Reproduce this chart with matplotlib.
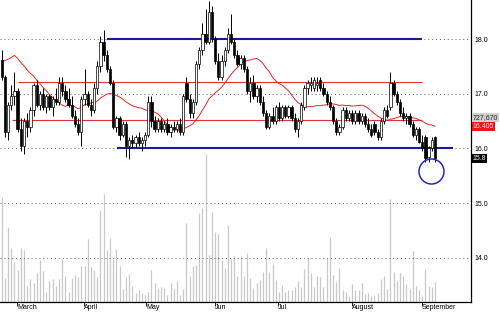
import numpy as np
import pandas as pd
import matplotlib
matplotlib.use('Agg')
import matplotlib.pyplot as plt

plt.rcParams['font.family'] = ['Liberation Sans', 'DejaVu Sans']

# ---------------- data ----------------
opens = [17.62, 17.30, 16.30, 16.80, 16.95, 17.05, 16.35, 16.05, 16.50, 16.40,
         16.70, 17.15, 16.80, 17.00, 16.75, 16.95, 16.75, 16.90, 16.85, 17.20,
         17.05, 16.90, 16.80, 16.60, 16.45, 16.30, 16.90, 17.00, 16.80, 16.70,
         17.10, 17.50, 17.95, 17.70, 17.45, 17.20, 16.40, 16.55, 16.25, 16.45,
         16.05, 16.15, 16.10, 16.20, 16.10, 16.15, 16.25, 16.85, 16.50, 16.35,
         16.50, 16.35, 16.45, 16.30, 16.40, 16.35, 16.45, 16.30, 17.20, 16.90,
         16.65, 16.85, 17.55, 17.80, 18.10, 17.95, 18.50, 18.00, 17.60, 17.30,
         17.60, 17.80, 18.10, 17.95, 17.70, 17.55, 17.65, 17.45, 17.05, 17.20,
         16.95, 17.10, 16.85, 16.65, 16.40, 16.60, 16.50, 16.75, 16.55, 16.75,
         16.60, 16.75, 16.55, 16.35, 16.50, 16.75, 17.10, 17.15, 17.10, 17.15,
         17.25, 17.10, 17.00, 16.85, 16.75, 16.50, 16.30, 16.40, 16.70, 16.55,
         16.65, 16.50, 16.65, 16.50, 16.60, 16.45, 16.35, 16.45, 16.30, 16.20,
         16.50, 16.70, 16.75, 17.20, 17.00, 16.85, 16.65, 16.55, 16.60, 16.45,
         16.25, 16.35, 16.11, 16.20, 15.85, 16.00, 16.20]
highs = [17.80, 17.35, 16.85, 17.15, 17.40, 17.10, 16.55, 16.55, 16.65, 16.75,
         17.20, 17.25, 17.05, 17.10, 17.00, 17.00, 16.95, 17.10, 17.30, 17.30,
         17.15, 17.10, 16.95, 16.70, 16.55, 16.95, 17.45, 17.05, 16.90, 17.20,
         17.60, 18.05, 18.16, 17.80, 17.50, 17.25, 16.60, 16.60, 16.50, 16.50,
         16.20, 16.25, 16.25, 16.30, 16.20, 16.30, 16.95, 16.95, 16.60, 16.55,
         16.55, 16.50, 16.55, 16.45, 16.50, 16.50, 16.55, 17.00, 17.30, 17.00,
         16.90, 17.60, 17.85, 18.30, 18.55, 18.70, 18.60, 18.05, 17.75, 17.70,
         17.85, 18.20, 18.45, 18.00, 17.80, 17.70, 17.70, 17.50, 17.30, 17.35,
         17.15, 17.15, 16.95, 16.70, 16.65, 16.75, 16.80, 16.85, 16.80, 16.80,
         16.80, 16.80, 16.65, 16.55, 16.85, 17.15, 17.25, 17.30, 17.30, 17.30,
         17.30, 17.20, 17.05, 16.95, 16.80, 16.55, 16.45, 16.75, 16.75, 16.70,
         16.70, 16.70, 16.70, 16.65, 16.65, 16.55, 16.45, 16.50, 16.35, 16.55,
         16.75, 16.80, 17.40, 17.25, 17.05, 16.90, 16.75, 16.65, 16.65, 16.50,
         16.40, 16.40, 16.25, 16.25, 16.05, 16.20, 16.22]
lows = [17.25, 16.20, 16.15, 16.70, 16.80, 16.30, 15.95, 15.90, 16.20, 16.30,
        16.60, 16.75, 16.70, 16.70, 16.65, 16.70, 16.60, 16.80, 16.80, 16.95,
        16.85, 16.75, 16.55, 16.40, 16.25, 16.05, 16.80, 16.75, 16.60, 16.65,
        17.00, 17.40, 17.60, 17.40, 17.15, 16.35, 16.30, 16.15, 16.20, 15.85,
        15.80, 16.00, 16.00, 16.05, 15.95, 16.05, 16.20, 16.40, 16.30, 16.30,
        16.30, 16.30, 16.25, 16.20, 16.30, 16.30, 16.25, 16.25, 16.85, 16.55,
        16.55, 16.80, 17.45, 17.70, 17.90, 17.90, 17.95, 17.55, 17.25, 17.25,
        17.50, 17.75, 17.90, 17.65, 17.50, 17.45, 17.40, 17.00, 16.85, 16.90,
        16.85, 16.80, 16.60, 16.35, 16.35, 16.45, 16.45, 16.50, 16.50, 16.55,
        16.55, 16.50, 16.30, 16.20, 16.45, 16.70, 17.00, 17.05, 17.05, 17.05,
        17.05, 16.95, 16.80, 16.70, 16.45, 16.25, 16.25, 16.35, 16.50, 16.50,
        16.45, 16.45, 16.45, 16.45, 16.40, 16.30, 16.20, 16.25, 16.15, 16.15,
        16.45, 16.55, 16.70, 16.95, 16.80, 16.60, 16.50, 16.45, 16.40, 16.20,
        16.15, 16.10, 15.95, 15.75, 15.75, 15.95, 15.75]
closes = [17.30, 16.30, 16.80, 16.95, 17.05, 16.35, 16.05, 16.50, 16.40, 16.70,
          17.15, 16.80, 17.00, 16.75, 16.95, 16.75, 16.90, 16.85, 17.20, 17.05,
          16.90, 16.80, 16.60, 16.45, 16.30, 16.90, 17.00, 16.80, 16.70, 17.10,
          17.50, 17.95, 17.70, 17.45, 17.20, 16.40, 16.55, 16.25, 16.45, 16.05,
          16.15, 16.10, 16.20, 16.10, 16.15, 16.25, 16.85, 16.50, 16.35, 16.50,
          16.35, 16.45, 16.30, 16.40, 16.35, 16.45, 16.30, 16.95, 16.90, 16.65,
          16.85, 17.55, 17.80, 18.10, 17.95, 18.50, 18.00, 17.60, 17.30, 17.60,
          17.80, 18.10, 17.95, 17.70, 17.55, 17.65, 17.45, 17.05, 17.20, 16.95,
          17.10, 16.85, 16.65, 16.40, 16.60, 16.50, 16.75, 16.55, 16.75, 16.60,
          16.75, 16.55, 16.35, 16.50, 16.80, 17.10, 17.20, 17.20, 17.25, 17.20,
          17.10, 17.00, 16.85, 16.75, 16.50, 16.30, 16.40, 16.70, 16.55, 16.65,
          16.50, 16.65, 16.50, 16.60, 16.45, 16.35, 16.25, 16.30, 16.20, 16.50,
          16.70, 16.60, 17.20, 17.00, 16.85, 16.65, 16.55, 16.60, 16.45, 16.25,
          16.35, 16.11, 16.00, 15.82, 16.00, 16.15, 15.82]
# closes before the visible window (needed for the 20-day average)
prior_closes = [16.20, 16.30, 16.30, 16.30, 17.40, 17.60, 17.70, 17.90, 18.00, 18.10,
                18.25, 18.30, 18.20, 18.10, 18.15, 18.00, 18.05, 17.90, 17.95]
# volume in thousands of shares
volumes = [3775, 871, 2700, 1936, 1434, 1147, 1947, 1864, 574, 825,
           692, 1040, 1506, 1122, 359, 753, 825, 574, 825, 1542,
           932, 369, 871, 968, 907, 1291, 1291, 2259, 1255, 1147,
           907, 3298, 3883, 1864, 2305, 1542, 1900, 1291, 466, 907,
           1004, 574, 333, 430, 333, 251, 369, 1147, 692, 502,
           549, 502, 251, 681, 466, 753, 251, 466, 2832, 932,
           1291, 1326, 3201, 3370, 5295, 1685, 3227, 2520, 2438, 1506,
           1230, 2760, 1542, 1649, 932, 1649, 932, 1746,
           871, 502, 681, 789, 1076, 1947, 1076, 1362, 789, 369,
           609, 359, 430, 430, 549, 753, 538, 1183, 1577, 1040,
           549, 932, 907, 538, 1577, 2341, 968, 728, 1230, 430,
           369, 226, 645, 430, 430, 681, 287, 323, 226, 251,
           333, 825, 932, 466, 3682, 1086, 753, 1050, 932, 645,
           466, 1828, 574, 430, 226, 1183, 574, 549, 727.67]
ma_period = 20

month_pos = [4.8, 25.8, 45.3, 67.0, 86.7, 110.0, 131.9]
month_names = ['March', 'April', 'May', 'Jun', 'Jul', 'August', 'September']
price_ticks = [14.0, 15.0, 16.0, 17.0, 18.0]

# drawn support / resistance levels: (price, start bar, end bar)
blue_levels = [(18.0, 33.0, 131.8), (16.0, 36.1, 141.8)]
red_levels = [(17.22, 5.2, 131.8), (16.52, 3.1, 131.8)]
highlight = (134.7, 15.59)

# ---------------- figure ----------------
fig = plt.figure(figsize=(5.0, 3.12), dpi=100)
rect = [0.0, 10 / 312, 471 / 500, 302 / 312]
axv = fig.add_axes(rect)
axp = fig.add_axes(rect, sharex=axv)
axp.patch.set_visible(False)

n = len(closes)
x = np.arange(n)
o = np.array(opens); h = np.array(highs); l = np.array(lows); c = np.array(closes)

# volume
axv.vlines(x, 0, volumes, colors='#c8c8c8', linewidth=0.9)
axv.set_ylim(0, 302 * 35.85)
axv.set_yticks([])
axv.set_xlim(-0.53, 147.3)
for s in ['top', 'left']:
    axv.spines[s].set_visible(False)
axv.spines['right'].set_linewidth(0.9)
axv.spines['bottom'].set_linewidth(0.9)
axv.set_xticks(month_pos)
axv.set_xticklabels(month_names, ha='left', fontsize=5)
axv.tick_params(axis='x', length=3, width=0.6, pad=-1.5, direction='out')

# price
axp.set_ylim(13.192, 18.713)
axp.set_yticks(price_ticks)
axp.set_yticklabels([f"{t:.1f}" for t in price_ticks], fontsize=5)
axp.yaxis.tick_right()
axp.tick_params(axis='y', length=0, pad=2.2)
axp.tick_params(axis='x', bottom=False, labelbottom=False)
for s in axp.spines.values():
    s.set_visible(False)
axp.set_axisbelow(True)
axp.grid(axis='y', color='#606060', linestyle=(0, (1, 3)), linewidth=0.7)

# levels
for p, a, b in red_levels:
    axp.hlines(p, a, b, colors='#e03030', linewidth=0.8, zorder=2)
for p, a, b in blue_levels:
    axp.hlines(p, a, b, colors='#1a1aa0', linewidth=1.5, zorder=2)

# moving average
full = pd.Series(prior_closes + closes)
ma = full.rolling(ma_period).mean().to_numpy()[len(prior_closes):]
axp.plot(x, ma, color='#e02828', linewidth=0.7, zorder=3)

# candles
axp.vlines(x, l, h, colors='black', linewidth=0.7, zorder=4)
up = c >= o
bottoms = np.minimum(o, c)
heights = np.maximum(np.abs(c - o), 0.01)
axp.bar(x[up], heights[up], bottom=bottoms[up], width=0.72,
        color='white', edgecolor='black', linewidth=0.5, zorder=5)
axp.bar(x[~up], heights[~up], bottom=bottoms[~up], width=0.72,
        color='black', edgecolor='black', linewidth=0.5, zorder=5)

# highlight circle
axp.plot([highlight[0]], [highlight[1]], marker='o', markersize=18,
         mfc='none', mec='#2525c0', mew=1.1, zorder=6, clip_on=False)

# right-side value labels
ma_last = ma[-1]
common = dict(xycoords=('axes fraction', 'data'), textcoords='offset points',
              ha='left', va='center', fontsize=5, annotation_clip=False)
axp.annotate(f"{volumes[-1] * 1000:,.0f}", xy=(1.0, ma_last), xytext=(1.3, 6.2),
             color='#202020',
             bbox=dict(boxstyle='square,pad=0.12', fc='#d0d0d0', ec='none'), **common)
axp.annotate(f"{ma_last:.3f}", xy=(1.0, ma_last), xytext=(1.3, 0),
             color='#ffe8e8',
             bbox=dict(boxstyle='square,pad=0.12', fc='#ee1515', ec='none'), **common)
axp.annotate(f"{closes[-1]:.1f}", xy=(1.0, closes[-1]), xytext=(1.3, 0),
             color='white',
             bbox=dict(boxstyle='square,pad=0.12', fc='black', ec='none'), **common)

fig.savefig('out.png', dpi=100)
